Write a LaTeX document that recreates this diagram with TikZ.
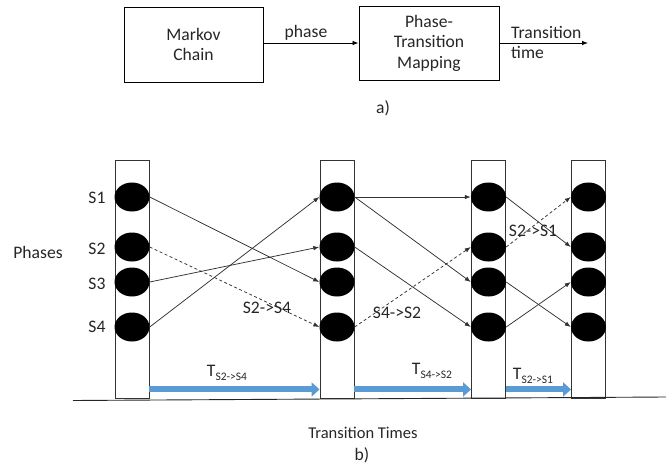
\documentclass[tikz,border=0pt]{standalone}
\usepackage{fontspec}
\setmainfont{Carlito}
\usetikzlibrary{shapes.geometric,arrows.meta}
\definecolor{arrowblue}{RGB}{91,155,213}
\definecolor{linegray}{RGB}{50,50,50}
\definecolor{textgray}{RGB}{38,38,38}
\newcommand{\tsub}[1]{T{\fontsize{11.5}{12}\selectfont\raisebox{-3.5pt}{#1}}}
\begin{document}
\begin{tikzpicture}[x=1pt,y=-1pt,
  every node/.style={font=\fontsize{17.6}{20.5}\selectfont, text=textgray},
  block/.style={draw=black, line width=0.9pt, minimum width=139pt, minimum height=75pt, align=center, inner sep=0pt},
  column/.style={draw=black!80, line width=0.9pt, minimum width=34pt, minimum height=238pt, inner sep=0pt},
  phasedot/.style={ellipse, fill=black, minimum width=35pt, minimum height=29pt, inner sep=0pt},
  link/.style={draw=linegray, line width=0.75pt, -{Latex[length=6pt,width=4.5pt]}},
  dashlink/.style={link, dash pattern=on 3pt off 2.5pt},
  flow/.style={draw=black, line width=0.8pt, -{Latex[length=6pt,width=4.5pt]}},
  timearrow/.style={draw=arrowblue, line width=6pt, -{Triangle[length=8pt,width=14pt]}},
  lbl/.style={inner sep=0pt}
]
\useasboundingbox (0,0) rectangle (666,465);

% --- a) block diagram
\node[block] (mc) at (193.5,44.5) {Markov\\Chain};
\node[block, minimum width=140pt, minimum height=74pt, align=center] (ptm) at (429,43)
  {Phase-\\Transition\\Mapping};
\coordinate (out) at (588,43);
\draw[flow] (mc.east |- ptm.west) -- (ptm.west);
\node[lbl] (phase) at (306,33) {phase};
\draw[flow] (ptm.east) -- (out);
\node[lbl, anchor=west, align=left] (tt) at (511,42.5) {Transition\\time};
\node[lbl] (capa) at (383,108) {a)};

% --- b) phase columns
\node[column] (col1) at (132,279) {};
\node[column] (col2) at (337,279) {};
\node[column] (col3) at (488.5,279) {};
\node[column] (col4) at (588.5,279) {};

\foreach \c/\x in {1/132,2/337,3/488.5,4/588.5}{
  \foreach \r/\y in {1/197,2/247,3/282,4/327}{
    \node[phasedot] (d\c\r) at (\x,\y) {};
  }
}

% row and axis labels
\node[lbl] (s1) at (97,198) {S1};
\node[lbl] (s2) at (97,249) {S2};
\node[lbl] (s3) at (97,284) {S3};
\node[lbl] (s4) at (97,327) {S4};
\node[lbl] (phases) at (38,252) {Phases};

% transitions between consecutive phase columns
\draw[link] (d11.east) -- (d23.west);
\draw[dashlink] (d12.east) -- (d24.west);
\draw[link] (d13.east) -- (d22.west);
\draw[link] (d14.east) -- (d21.west);

\draw[link] (d21.east) -- (d31.west);
\draw[link] (d21.east) -- (d33.west);
\draw[link] (d22.east) -- (d34.west);
\draw[dashlink] (d24.east) -- (d32.west);

\draw[link] (d31.east) -- (d42.west);
\draw[dashlink] (d32.east) -- (d41.west);
\draw[link] (d33.east) -- (d44.west);
\draw[link] (d34.east) -- (d43.west);

\node[lbl] (l24) at (267,308) {S2->S4};
\node[lbl] (l42) at (397,313) {S4->S2};
\node[lbl] (l21) at (533,231) {S2->S1};

% time axis
\coordinate (basel) at (73,400.5);
\coordinate (baser) at (666,397);
\draw[black!85, line width=0.9pt] (basel) -- (baser);

\draw[timearrow] ([yshift=9pt]col1.south east) -- ([yshift=9pt]col2.south west);
\draw[timearrow] ([yshift=9pt]col2.south east) -- ([yshift=9pt]col3.south west);
\draw[timearrow] ([yshift=9pt]col3.south east) -- ([yshift=9pt]col4.south west);

\node[lbl] (t1) at (227,373) {\tsub{S2->S4}};
\node[lbl] (t2) at (432,371) {\tsub{S4->S2}};
\node[lbl] (t3) at (533,376) {\tsub{S2->S1}};

\node[lbl, font=\fontsize{16.5}{20}\selectfont] (times) at (363,433) {Transition Times};
\node[lbl] (capb) at (362,455) {b)};
\end{tikzpicture}
\end{document}
